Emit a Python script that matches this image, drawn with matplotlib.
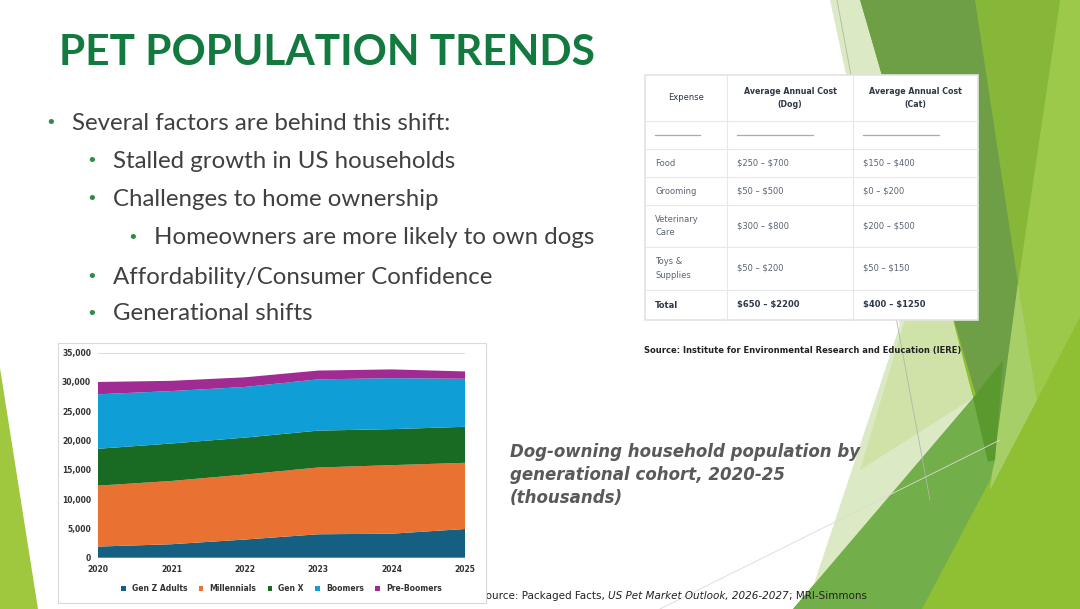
import matplotlib.pyplot as plt
from matplotlib.patches import Polygon, Rectangle

plt.rcParams["text.parse_math"] = False

# chart data (thousands of dog-owning households)
years = [2020, 2021, 2022, 2023, 2024, 2025]
gen_z = [1900, 2300, 3100, 4000, 4100, 4900]
millennials = [10400, 10800, 11100, 11400, 11700, 11300]
gen_x = [6300, 6400, 6300, 6300, 6150, 6150]
boomers = [9300, 8950, 8650, 8750, 8700, 8200]
pre_boomers = [2100, 1750, 1650, 1500, 1500, 1250]
series_names = ["Gen Z Adults", "Millennials", "Gen X", "Boomers", "Pre-Boomers"]
series_colors = ["#156082", "#E97132", "#196B24", "#0F9ED5", "#A02B93"]

# slide text
title = "PET POPULATION TRENDS"
bullets = [
    (0, "Several factors are behind this shift:"),
    (1, "Stalled growth in US households"),
    (1, "Challenges to home ownership"),
    (2, "Homeowners are more likely to own dogs"),
    (1, "Affordability/Consumer Confidence"),
    (1, "Generational shifts"),
]
caption = "Dog-owning household population by\ngenerational cohort, 2020-25\n(thousands)"

# cost table
table_header = ["Expense", "Average Annual Cost\n(Dog)", "Average Annual Cost\n(Cat)"]
table_rows = [
    ["Food", "$250 – $700", "$150 – $400"],
    ["Grooming", "$50 – $500", "$0 – $200"],
    ["Veterinary\nCare", "$300 – $800", "$200 – $500"],
    ["Toys &\nSupplies", "$50 – $200", "$50 – $150"],
    ["Total", "$650 – $2200", "$400 – $1250"],
]

fig = plt.figure(figsize=(10.8, 6.09), dpi=100)
bg = fig.add_axes([0, 0, 1, 1])
bg.set_xlim(0, 1080)
bg.set_ylim(609, 0)
bg.axis("off")

# background facets on the right and left edge
shapes = [
    ([(860, 0), (1080, 0), (1080, 609), (793, 609), (973, 398)], "#8fbf32"),
    ([(1080, 300), (1080, 609), (922, 609), (990, 470), (1037, 400)], "#8fbf32"),
    ([(1060, 0), (1080, 0), (1080, 317), (1037, 400), (1018, 283)], "#9cc94a"),
    ([(975, 0), (1060, 0), (1018, 283)], "#87b738"),
    ([(830, 0), (860, 0), (973, 398), (812, 590), (900, 325)], "#dbe9c4"),
    ([(905, 320), (948, 300), (973, 398), (860, 470)], "#cfe3a9"),
    ([(860, 0), (975, 0), (1018, 283), (995, 460)], "#6e9e46"),
    ([(1018, 283), (1037, 400), (990, 490)], "#a7cf68"),
    ([(793, 609), (973, 398), (995, 460), (990, 480), (922, 609)], "#72ae4a"),
    ([(973, 398), (1003, 360), (995, 460), (988, 462)], "#5a992e"),
    ([(0, 368), (38, 609), (0, 609)], "#a0c83f"),
]
for pts, col in shapes:
    bg.add_patch(Polygon(pts, closed=True, facecolor=col, edgecolor="none", zorder=0))
bg.plot([837, 930], [0, 500], color="#b0b8a8", lw=0.6, zorder=0.5)
bg.plot([660, 1000], [609, 440], color="#d8dcd2", lw=0.6, zorder=0.5)

# title and bullets
bg.text(59, 53, title, fontsize=30.5, fontweight="bold", color="#137A3F",
        family="Lato", va="center", ha="left")
bullet_y = [123, 161, 199, 238, 277, 314]
for (lvl, txt), y in zip(bullets, bullet_y):
    x0 = 45 + lvl * 41
    bg.text(x0, y, "•", fontsize=13, color="#2E8B45", va="center", ha="left")
    bg.text(x0 + 27, y, txt, fontsize=17.3, color="#404040", family="Lato",
            va="center", ha="left")

# cost table
col_x = [645, 727, 853, 978]
row_y = [75, 121, 149, 177, 205, 247, 290, 320]
bg.add_patch(Rectangle((col_x[0], row_y[0]), col_x[-1] - col_x[0], row_y[-1] - row_y[0],
                       facecolor="white", edgecolor="#e3e3e3", lw=1.2, zorder=1))
for x in col_x[1:-1]:
    bg.plot([x, x], [row_y[0], row_y[-1]], color="#e6e8eb", lw=0.8, zorder=1.5)
for y in row_y[1:-1]:
    bg.plot([col_x[0], col_x[-1]], [y, y], color="#e6e8eb", lw=0.8, zorder=1.5)
for i, h in enumerate(table_header):
    bg.text((col_x[i] + col_x[i + 1]) / 2, (row_y[0] + row_y[1]) / 2, h,
            fontsize=6 if i == 0 else 5.7,
            color="#2d3748", ha="center", va="center", linespacing=1.6,
            fontweight="bold" if i else "normal", zorder=2)
dash_len = [45, 76, 76]
for i in range(3):
    y = (row_y[1] + row_y[2]) / 2
    bg.plot([col_x[i] + 10, col_x[i] + 10 + dash_len[i]], [y, y], color="#a3acb9", lw=0.9, zorder=2)
for r, row in enumerate(table_rows):
    y = (row_y[r + 2] + row_y[r + 3]) / 2
    for i, cell in enumerate(row):
        bg.text(col_x[i] + 10, y, cell, fontsize=6, color="#2d3748" if r == 4 else "#5a6475",
                fontweight="bold" if r == 4 else "normal", ha="left", va="center",
                linespacing=1.7, zorder=2)

bg.text(644, 351, "Source: Institute for Environmental Research and Education (IERE)",
        fontsize=6.05, fontweight="bold", color="#222222", va="center", ha="left")

bg.text(510, 475, caption, fontsize=12, fontweight="bold", style="italic",
        color="#595959", va="center", ha="left", linespacing=1.35)

# bottom source line with italic title
s1 = bg.text(479, 599, "Source: Packaged Facts, ", fontsize=7.5, color="#222222",
             va="baseline", ha="left", zorder=1)
s2 = bg.annotate("US Pet Market Outlook, 2026-2027", xy=(1, 0), xycoords=s1,
                 fontsize=7.5, style="italic", color="#222222", va="bottom", ha="left")
bg.annotate("; MRI-Simmons", xy=(1, 0), xycoords=s2, fontsize=7.5, color="#222222",
            va="bottom", ha="left")

# chart panel
bg.add_patch(Rectangle((58, 343), 428, 260, facecolor="white", edgecolor="#d9d9d9",
                       lw=0.8, zorder=3))

ax = fig.add_axes([98 / 1080, 1 - 557.7 / 609, 367 / 1080, 205 / 609], zorder=2)
ax.stackplot(years, gen_z, millennials, gen_x, boomers, pre_boomers,
             colors=series_colors, labels=series_names, lw=0)
ax.set_xlim(2020, 2025)
ax.set_ylim(0, 35000)
ax.set_yticks(range(0, 35001, 5000))
ax.set_yticklabels([f"{v:,}" for v in range(0, 35001, 5000)])
ax.set_xticks(years)
ax.tick_params(length=0, labelsize=5.5, labelcolor="#333333", pad=5)
for lab in ax.get_xticklabels() + ax.get_yticklabels():
    lab.set_fontweight("bold")
ax.grid(axis="y", color="#d9d9d9", lw=0.7)
ax.set_axisbelow(True)
for sp in ax.spines.values():
    sp.set_visible(False)
ax.patch.set_alpha(0)
leg = ax.legend(loc="upper center", bbox_to_anchor=(0.5, -0.095), ncol=5, frameon=False,
                handlelength=0.6, handleheight=0.6, columnspacing=1.5, handletextpad=0.8,
                prop={"size": 5.5, "weight": "bold"})
for t in leg.get_texts():
    t.set_color("#333333")

fig.savefig("out.png", dpi=100)
